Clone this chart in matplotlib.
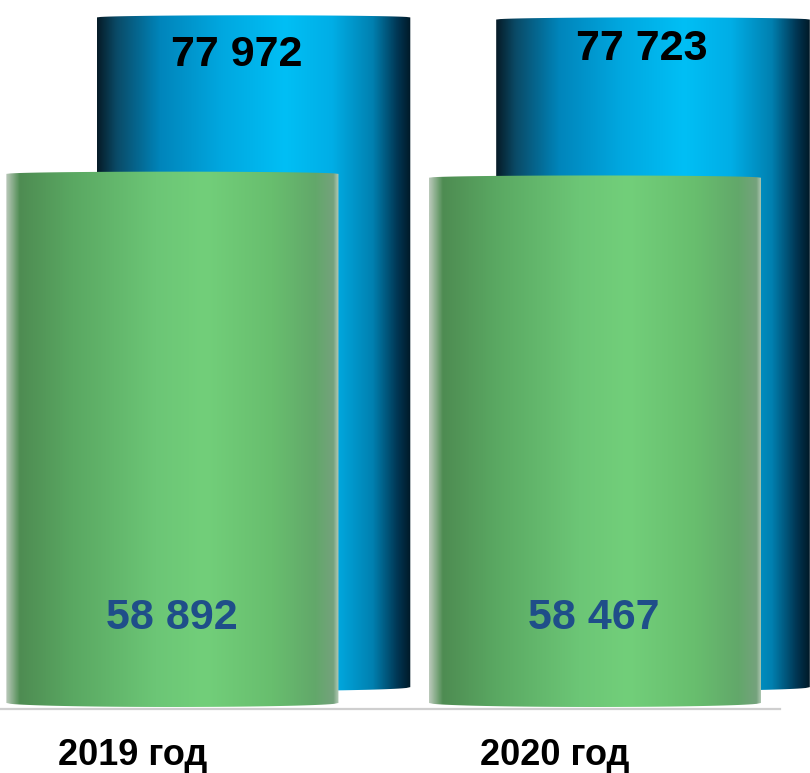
import numpy as np
import matplotlib
matplotlib.use("Agg")
import matplotlib.pyplot as plt
from matplotlib.colors import LinearSegmentedColormap
from matplotlib.path import Path
from matplotlib.patches import PathPatch
from matplotlib.lines import Line2D

plt.rcParams['font.family'] = ['Liberation Sans', 'DejaVu Sans']

# data
years = ["2019 год", "2020 год"]
back_values = [77972, 77723]    # blue cylinders (behind)
front_values = [58892, 58467]   # green cylinders (front)

# label offsets (pixels) for the blue values
back_label_offsets = [(-17, -38), (-11, -29)]

blue_cmap = LinearSegmentedColormap.from_list("blue_cyl", [
    (0.0, "#061c28"), (0.06, "#0a4a66"), (0.2, "#0085bb"), (0.4, "#00a8e0"),
    (0.6, "#00bff5"), (0.75, "#00aee6"), (0.88, "#0080b0"), (0.96, "#003552"),
    (1.0, "#001a28")])
green_cmap = LinearSegmentedColormap.from_list("green_cyl", [
    (0.0, "#b8c8b8"), (0.04, "#4e8c52"), (0.2, "#5aa862"), (0.45, "#6cc676"),
    (0.6, "#72cf7a"), (0.8, "#68be6e"), (0.93, "#62a86a"), (0.985, "#74a27c"),
    (1.0, "#b0c8b4")])

fig = plt.figure(figsize=(8.1, 7.73), dpi=100)
fig.patch.set_facecolor("white")


def draw_cylinders(ax, values, width, cmap, cap_top, cap_bottom):
    bars = ax.bar(range(len(values)), values, width, color="none", edgecolor="none")
    grad = np.linspace(0, 1, 512).reshape(1, -1)
    for rect in bars:
        x0 = rect.get_x()
        w = rect.get_width()
        h = rect.get_height()
        xc = x0 + w / 2
        t = np.linspace(-1, 1, 80)
        xs = xc + t * w / 2
        top = h + cap_top * np.sqrt(1 - t ** 2)
        bottom = -cap_bottom * np.sqrt(1 - t ** 2)
        verts = np.concatenate([
            np.column_stack([xs, top]),
            np.column_stack([xs[::-1], bottom[::-1]]),
            [[xs[0], top[0]]]])
        codes = [Path.MOVETO] + [Path.LINETO] * (len(verts) - 2) + [Path.CLOSEPOLY]
        patch = PathPatch(Path(verts, codes), facecolor="none", edgecolor="none")
        ax.add_patch(patch)
        im = ax.imshow(grad, cmap=cmap, aspect="auto", interpolation="bilinear",
                       extent=(x0, x0 + w, -cap_bottom, h + cap_top), zorder=2)
        im.set_clip_path(patch)
    return bars


# back axes (blue)
ax_b = fig.add_axes([0, 0, 1, 1])
ax_b.set_xlim(-0.6345, 1.393)
ax_b.set_ylim(-10000, 80000)
ax_b.axis("off")
bars_b = draw_cylinders(ax_b, back_values, 0.785, blue_cmap, 250, 450)
for i, v in enumerate(back_values):
    ax_b.annotate(f"{v:,}".replace(",", " "), xy=(i, v), xytext=back_label_offsets[i],
                  textcoords="offset pixels", ha="center", va="center",
                  fontsize=31, fontweight="bold", color="black")

# front axes (green)
ax_f = fig.add_axes([0, 0, 1, 1])
ax_f.set_xlim(-0.408, 1.509)
ax_f.set_ylim(-7800, 78250)
ax_f.axis("off")
bars_f = draw_cylinders(ax_f, front_values, 0.786, green_cmap, 250, 450)
for i, v in enumerate(front_values):
    ax_f.annotate(f"{v:,}".replace(",", " "), xy=(i, 0), xytext=(-1, 85),
                  textcoords="offset pixels", ha="center", va="center",
                  fontsize=31, fontweight="bold", color="#1f4e89")
    ax_f.annotate(years[i], xy=(i, 0), xytext=(-40, -53),
                  textcoords="offset pixels", ha="center", va="center",
                  fontsize=26, fontweight="bold", color="black")

# base line
fig.add_artist(Line2D([0, 780 / 810], [64 / 773, 64 / 773], color="#cfcfcf",
                      linewidth=1.6, transform=fig.transFigure))

fig.savefig("out.png", dpi=100, facecolor="white")
